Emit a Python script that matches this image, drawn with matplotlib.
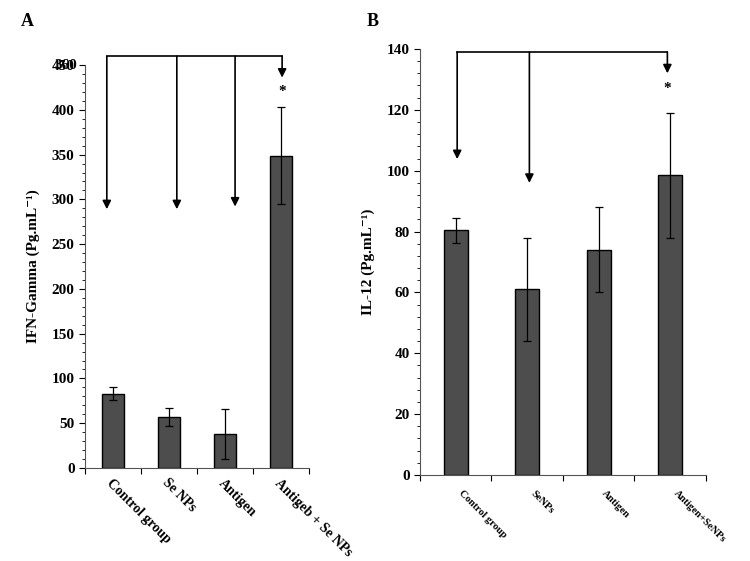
import matplotlib
matplotlib.use("Agg")
import matplotlib.pyplot as plt
import matplotlib.transforms as mtransforms
from matplotlib.ticker import MultipleLocator, FixedLocator, NullFormatter

plt.rcParams['font.family'] = ['Liberation Serif', 'DejaVu Serif']
plt.rcParams['font.weight'] = 'bold'

# Panel A data
cats_a = ["Control group", "Se NPs", "Antigen", "Antigeb + Se NPs"]
vals_a = [83, 57, 38, 349]
err_a = [7.5, 10, 28, 54]
# Panel B data
cats_b = ["Control group", "SeNPs", "Antigen", "Antigen+SeNPs"]
vals_b = [80.4, 61, 74, 98.5]
err_b = [4.2, 17, 14, 20.5]

bar_color = "#4d4d4d"

fig = plt.figure(figsize=(7.5, 5.61), dpi=100)

# ---------- Panel A ----------
axA = fig.add_axes([0.1133, 0.1658, 0.2987, 0.7182])
xa = [i + 0.5 for i in range(len(cats_a))]
axA.bar(xa, vals_a, width=0.4, color=bar_color, edgecolor="black", linewidth=1.0)
axA.errorbar(xa, vals_a, yerr=err_a, fmt="none", ecolor="black", elinewidth=0.9,
             capsize=3, capthick=0.9)
axA.set_xlim(0, 4)
axA.set_ylim(0, 450)
axA.yaxis.set_major_locator(MultipleLocator(50))
axA.yaxis.set_minor_locator(MultipleLocator(10))
axA.xaxis.set_major_locator(FixedLocator([0, 1, 2, 3, 4]))
axA.xaxis.set_major_formatter(NullFormatter())
axA.xaxis.set_minor_locator(FixedLocator(xa))
axA.set_xticklabels(cats_a, minor=True)
axA.tick_params(axis="x", which="minor", length=0, pad=6)
offA = mtransforms.ScaledTranslation(0.5 / 100, 0, fig.dpi_scale_trans)
for lab in axA.get_xticklabels(minor=True):
    lab.set_rotation(-45)
    lab.set_ha("left")
    lab.set_va("top")
    lab.set_rotation_mode("anchor")
    lab.set_fontsize(10)
    lab.set_fontweight("bold")
    lab.set_transform(lab.get_transform() + offA)
axA.tick_params(axis="y", which="major", length=4, labelsize=11, direction="out")
axA.tick_params(axis="y", which="minor", length=2.5, direction="out")
axA.tick_params(axis="x", which="major", length=4, direction="out")
for lab in axA.get_yticklabels():
    lab.set_fontweight("bold")
axA.spines["top"].set_visible(False)
axA.spines["right"].set_visible(False)
axA.spines["left"].set_color("#555555")
axA.spines["bottom"].set_color("#555555")
axA.set_ylabel("IFN-Gamma (Pg.mL\u207b\u00b9)", fontsize=11, fontweight="bold", labelpad=8)
# overlapping extra label at top
axA.text(-0.35, 450, "360", fontsize=11, fontweight="bold", ha="center", va="center",
         clip_on=False, transform=axA.transData)

# bracket A
br_a_y = 460
br_a_x = [0.39, 1.64, 2.68, 3.52]
br_a_end = [289, 289, 292, 436]
axA.plot([br_a_x[0], br_a_x[-1]], [br_a_y, br_a_y], color="black", lw=1.2, clip_on=False)
for x, e in zip(br_a_x, br_a_end):
    axA.annotate("", xy=(x, e), xytext=(x, br_a_y), annotation_clip=False,
                 arrowprops=dict(arrowstyle="-|>,head_width=0.25,head_length=0.5",
                                 color="black", lw=1.2, shrinkA=0, shrinkB=0))
axA.text(3.52, 420, "*", fontsize=11, ha="center", va="center")

fig.text(27 / 750, 1 - 22 / 561, "A", fontsize=13, fontweight="bold", ha="center", va="center")

# ---------- Panel B ----------
axB = fig.add_axes([0.56, 0.1533, 0.3813, 0.7594])
xb = [i + 0.5 for i in range(len(cats_b))]
axB.bar(xb, vals_b, width=0.33, color=bar_color, edgecolor="black", linewidth=1.0)
axB.errorbar(xb, vals_b, yerr=err_b, fmt="none", ecolor="black", elinewidth=0.9,
             capsize=3, capthick=0.9)
axB.set_xlim(0, 4)
axB.set_ylim(0, 140)
axB.yaxis.set_major_locator(MultipleLocator(20))
axB.yaxis.set_minor_locator(MultipleLocator(4))
axB.xaxis.set_major_locator(FixedLocator([0, 1, 2, 3, 4]))
axB.xaxis.set_major_formatter(NullFormatter())
axB.xaxis.set_minor_locator(FixedLocator(xb))
axB.set_xticklabels(cats_b, minor=True)
axB.tick_params(axis="x", which="minor", length=0, pad=10)
offB = mtransforms.ScaledTranslation(8 / 100, 0, fig.dpi_scale_trans)
for lab in axB.get_xticklabels(minor=True):
    lab.set_rotation(-45)
    lab.set_ha("left")
    lab.set_va("top")
    lab.set_rotation_mode("anchor")
    lab.set_fontsize(7.5)
    lab.set_fontweight("bold")
    lab.set_transform(lab.get_transform() + offB)
axB.tick_params(axis="y", which="major", length=4, labelsize=11, direction="out")
axB.tick_params(axis="y", which="minor", length=2.5, direction="out")
axB.tick_params(axis="x", which="major", length=4, direction="out")
for lab in axB.get_yticklabels():
    lab.set_fontweight("bold")
axB.spines["top"].set_visible(False)
axB.spines["right"].set_visible(False)
axB.spines["left"].set_color("#555555")
axB.spines["bottom"].set_color("#555555")
axB.set_ylabel("IL-12 (Pg.mL\u207b\u00b9)", fontsize=11, fontweight="bold", labelpad=8)

br_b_y = 139
br_b_x = [0.52, 1.53, 3.46]
br_b_end = [103.8, 96, 132]
axB.plot([br_b_x[0], br_b_x[-1]], [br_b_y, br_b_y], color="black", lw=1.2, clip_on=False)
for x, e in zip(br_b_x, br_b_end):
    axB.annotate("", xy=(x, e), xytext=(x, br_b_y), annotation_clip=False,
                 arrowprops=dict(arrowstyle="-|>,head_width=0.25,head_length=0.5",
                                 color="black", lw=1.2, shrinkA=0, shrinkB=0))
axB.text(3.46, 127, "*", fontsize=11, ha="center", va="center")

fig.text(373 / 750, 1 - 22 / 561, "B", fontsize=13, fontweight="bold", ha="center", va="center")

fig.savefig("out.png", dpi=100)
